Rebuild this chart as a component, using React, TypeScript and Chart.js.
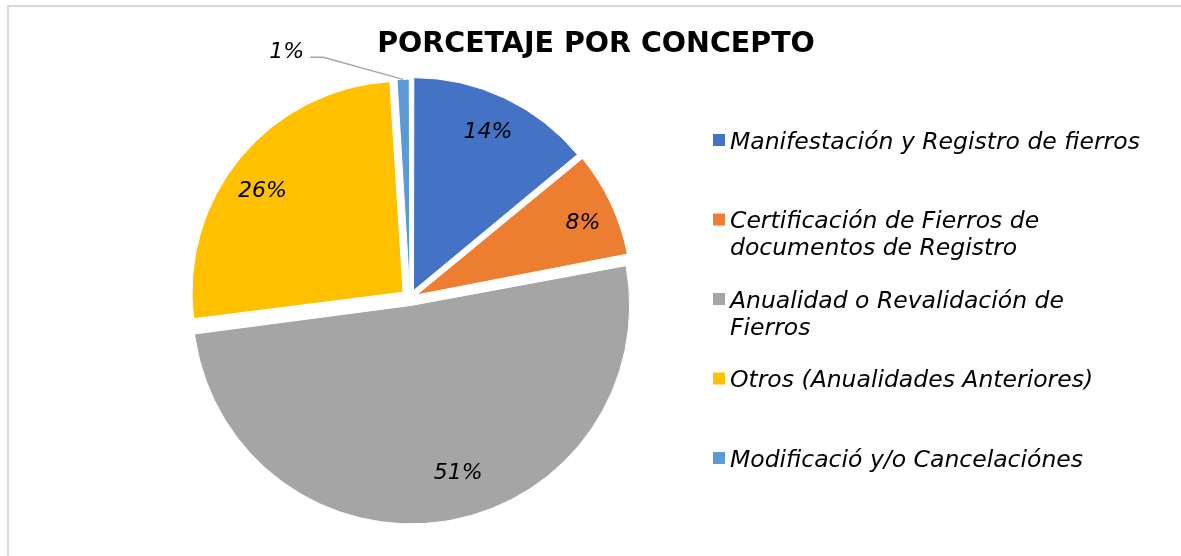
import React, { useEffect, useRef } from "react";
import { Chart, registerables } from "chart.js";

Chart.register(...registerables);

const chartTitle = "PORCETAJE POR CONCEPTO";
const categories: string[][] = [
  ["Manifestación y Registro de fierros"],
  ["Certificación de Fierros de", "documentos de Registro"],
  ["Anualidad o Revalidación de", "Fierros"],
  ["Otros (Anualidades Anteriores)"],
  ["Modificació y/o Cancelaciónes"],
];
const values = [14, 8, 51, 26, 1];
const colors = ["#4472C4", "#ED7D31", "#A5A5A5", "#FFC000", "#5B9BD5"];
const explode = [33, 29, 30, 36, 16];

const FONT = '"DejaVu Sans", "Noto Sans", sans-serif';

const textPlugin = {
  id: "textPlugin",
  afterDraw(chart: any) {
    const ctx: CanvasRenderingContext2D = chart.ctx;
    const meta = chart.getDatasetMeta(0);
    const total = values.reduce((a, b) => a + b, 0);
    const angleShift = [0, 2, -7, -4, 0];
    const radFrac = [0.82, 0.84, 0.79, 0.82, 0.82];
    ctx.save();

    // title
    ctx.fillStyle = "#000";
    ctx.font = `bold 28.5px ${FONT}`;
    ctx.textAlign = "center";
    ctx.textBaseline = "alphabetic";
    ctx.fillText(chartTitle, 596, 52);

    // data labels
    meta.data.forEach((arc: any, i: number) => {
      const p = arc.getProps(["x", "y", "startAngle", "endAngle", "outerRadius", "circumference"], true);
      const mid = (p.startAngle + p.endAngle) / 2;
      const offOpt = arc.options.offset || 0;
      const off = (offOpt / 4) * (2 - Math.sin(Math.min(Math.PI, p.circumference)));
      const cx = p.x + Math.cos(mid) * off;
      const cy = p.y + Math.sin(mid) * off;
      const pct = Math.round((values[i] / total) * 100) + "%";
      ctx.font = `italic 22px ${FONT}`;
      ctx.fillStyle = "#000";
      if (values[i] / total < 0.03) {
        const ex = cx + Math.cos(mid) * p.outerRadius;
        const ey = cy + Math.sin(mid) * p.outerRadius;
        const elx = ex - 80;
        const ely = ey - 22;
        ctx.strokeStyle = "#A6A6A6";
        ctx.lineWidth = 1.5;
        ctx.beginPath();
        ctx.moveTo(ex, ey);
        ctx.lineTo(elx, ely);
        ctx.lineTo(elx - 13, ely);
        ctx.stroke();
        ctx.textAlign = "right";
        ctx.textBaseline = "alphabetic";
        ctx.fillText(pct, elx - 19, ely + 0.5);
      } else {
        const a = mid + (angleShift[i] * Math.PI) / 180;
        const r = p.outerRadius * radFrac[i];
        const lx = cx + Math.cos(a) * r;
        const ly = cy + Math.sin(a) * r;
        ctx.textAlign = "center";
        ctx.textBaseline = "middle";
        ctx.fillText(pct, lx, ly);
      }
    });

    // legend
    const legendX = 713;
    const firstY = 140;
    const step = 79.5;
    const lineH = 27;
    const fs = 23.5;
    ctx.font = `italic ${fs}px ${FONT}`;
    ctx.textAlign = "left";
    ctx.textBaseline = "alphabetic";
    categories.forEach((lines, i) => {
      const cyL = firstY + i * step;
      ctx.fillStyle = colors[i];
      ctx.fillRect(legendX, cyL - 6, 12, 12);
      ctx.fillStyle = "#000";
      lines.forEach((ln, j) => {
        ctx.fillText(ln, legendX + 17, cyL + (0.729 * fs) / 2 + j * lineH);
      });
    });
    ctx.restore();
  },
};

export default function App() {
  const ref = useRef<HTMLCanvasElement | null>(null);
  useEffect(() => {
    if (!ref.current) return;
    const chart = new Chart(ref.current, {
      type: "pie",
      data: {
        labels: categories.map((c) => c.join(" ")),
        datasets: [
          {
            data: values,
            backgroundColor: colors,
            borderColor: "#ffffff",
            borderWidth: 1,
            offset: explode,
            hoverOffset: 0,
          } as any,
        ],
      },
      options: {
        responsive: false,
        animation: false,
        radius: 211,
        layout: { padding: { left: 199, right: 560, top: 88, bottom: 48 } },
        plugins: {
          legend: { display: false },
          title: { display: false },
          tooltip: { enabled: false },
        },
        events: [],
      } as any,
      plugins: [textPlugin],
    });
    return () => chart.destroy();
  }, []);

  return (
    <div style={{ position: "fixed", left: 0, top: 0, width: 1181, height: 556, background: "#fff", overflow: "hidden" }}>
      <div
        style={{
          position: "absolute",
          left: 7,
          top: 5,
          width: 1300,
          height: 700,
          borderLeft: "2px solid #d9d9d9",
          borderTop: "2px solid #d9d9d9",
          boxSizing: "border-box",
        }}
      />
      <canvas ref={ref} width={1181} height={556} style={{ position: "absolute", left: 0, top: 0, width: 1181, height: 556 }} />
    </div>
  );
}
